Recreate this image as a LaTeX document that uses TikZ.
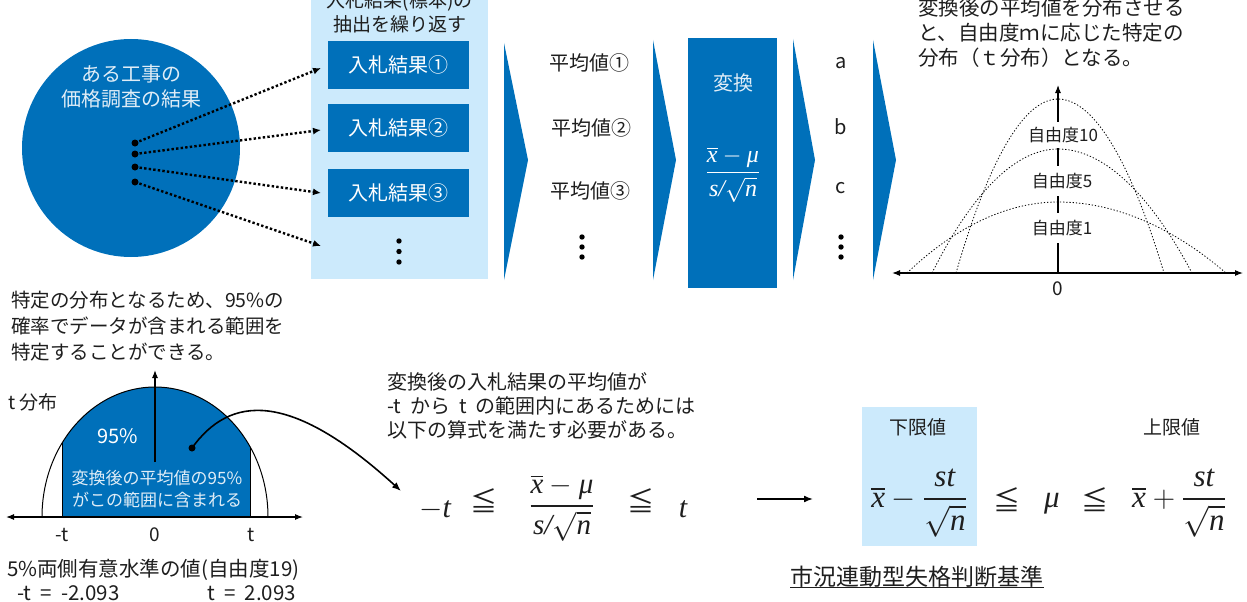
\RequirePackage{fix-cm}
\documentclass[tikz,border=0pt]{standalone}
\usepackage{fontspec}
\setmainfont{Noto Sans CJK JP}
\newfontfamily\mfont{Liberation Serif}
\newcommand{\mv}[1]{\hbox{\mfont\itshape #1}}
\newcommand{\mslash}{\hbox{\mfont\itshape /}}
\newcommand{\xbar}{\vbox{\hrule height 0.06em\kern0.09em\hbox{\mfont\itshape x}}}
\newcommand{\fracb}[2]{\displaystyle{{#1}\above 0.055em{#2}}}
\usetikzlibrary{arrows.meta}
\definecolor{mainblue}{RGB}{0,112,186}
\definecolor{lightblue}{RGB}{204,234,252}
\definecolor{txt}{RGB}{30,30,30}
\definecolor{softwhite}{RGB}{224,237,247}
\begin{document}
\begin{tikzpicture}[x=1pt,y=-1pt,
  bbox/.style={rectangle, fill=mainblue, text=white, inner sep=0pt},
  lbbox/.style={rectangle, fill=lightblue, inner sep=0pt},
  lbl/.style={inner sep=0pt, text=txt},
  fs/.style={font=\fontsize{#1}{#1}\selectfont},
  dotarrow/.style={line width=2.4pt, dash pattern=on 2.4pt off 2.2pt, -{Latex[length=8pt,width=7pt]}},
  tcurve/.style={line width=0.8pt, dash pattern=on 1.3pt off 1.9pt},
  axis/.style={line width=1.1pt},
  bigdot/.style={circle, fill=black, inner sep=0pt, minimum size=7pt},
]
\useasboundingbox (0,0) rectangle (1247,602);
\clip (0,0) rectangle (1247,602);

% ---------- top-left: population circle ----------
\node[circle, fill=mainblue, minimum size=218pt, inner sep=0pt] (pop) at (131,148) {};
\node[lbl, text=softwhite, align=center, font=\fontsize{20}{25}\selectfont] (poptxt) at (131,86.5) {ある工事の\\価格調査の結果};
\node[bigdot] (d1) at (135,143) {};
\node[bigdot] (d2) at (135,154) {};
\node[bigdot] (d3) at (135,167) {};
\node[bigdot] (d4) at (135,182) {};

% ---------- sample box ----------
\node[lbbox, minimum width=177pt, minimum height=290pt, anchor=north west] (samp) at (311,-11) {};
\node[lbl, align=center, font=\fontsize{19}{24}\selectfont] (samptxt) at (399.5,12) {入札結果(標本)の\\抽出を繰り返す};
\node[bbox, minimum width=141pt, minimum height=48pt, fs=20] (r1) at (398.5,65) {入札結果①};
\node[bbox, minimum width=141pt, minimum height=48pt, fs=20] (r2) at (398.5,128) {入札結果②};
\node[bbox, minimum width=141pt, minimum height=48pt, fs=20] (r3) at (398.5,192.5) {入札結果③};
\foreach \yy in {241,251.5,262} \fill (399,\yy) circle (2.7);

\coordinate (e1) at (321,68);
\coordinate (e2) at (321,130);
\coordinate (e3) at (321,193);
\coordinate (e4) at (321,246);
\draw[dotarrow] (d1.center) -- (e1);
\draw[dotarrow] (d2.center) -- (e2);
\draw[dotarrow] (d3.center) -- (e3);
\draw[dotarrow] (d4.center) -- (e4);

% ---------- chevrons ----------
\fill[mainblue] (504,43) -- (528,160) -- (504,280) -- cycle;
\fill[mainblue] (653,40) -- (676,160) -- (653,280) -- cycle;
\fill[mainblue] (793,39) -- (815,160) -- (793,280) -- cycle;
\fill[mainblue] (873,40) -- (896,160) -- (873,280) -- cycle;

% ---------- averages ----------
\node[lbl, fs=20] (m1) at (589,63) {平均値①};
\node[lbl, fs=20] (m2) at (591,128) {平均値②};
\node[lbl, fs=20] (m3) at (590,191) {平均値③};
\foreach \yy in {237,247,257} \fill (582,\yy) circle (2.7);

% ---------- transform box ----------
\node[bbox, minimum width=89pt, minimum height=250pt, anchor=north west] (conv) at (688,38) {};
\node[lbl, text=softwhite, fs=20] (convtxt) at (733,83) {変換};
\node[lbl, text=white, font=\fontsize{24}{26}\selectfont] (convf) at (733,175) {$\fracb{\xbar-\mv{μ}}{\mv{s}\mslash\sqrt{\mv{n}}}$};

% ---------- a b c ----------
\node[lbl, fs=20] (la) at (841,63) {a};
\node[lbl, fs=20] (lb) at (841,127) {b};
\node[lbl, fs=20] (lc) at (841,188) {c};
\foreach \yy in {237,247,257} \fill (841,\yy) circle (2.7);

% ---------- top-right text and t-distributions ----------
\node[lbl, anchor=west, align=left, font=\fontsize{20.5}{25}\selectfont] (trtxt) at (918,33) {変換後の平均値を分布させる\\と、自由度ｍに応じた特定の\\分布（ｔ分布）となる。};
\draw[axis, {Latex[length=8pt,width=6pt]}-{Latex[length=8pt,width=6pt]}] (892,273) -- (1243,273);
\draw[axis, -{Latex[length=8pt,width=6pt]}] (1058,273) -- (1058,85);
\node[lbl, fill=white, inner xsep=1pt, inner ysep=5pt, fs=17] (df10) at (1063,135) {自由度10};
\node[lbl, fill=white, inner xsep=1pt, inner ysep=7pt, fs=17] (df5) at (1062,181) {自由度5};
\node[lbl, fill=white, inner xsep=1pt, inner ysep=7pt, fs=17] (df1) at (1062,228) {自由度1};
\draw[tcurve] (956,273) parabola bend (1058,99) (1164,273);
\draw[tcurve] (932,273) parabola bend (1058,149) (1192,273);
\draw[tcurve] (907,273) parabola bend (1058,202) (1226,273);
\node[lbl, fs=19] (zero1) at (1058,289) {0};

% ---------- bottom-left text ----------
\node[lbl, anchor=west, align=left, font=\fontsize{19.5}{26}\selectfont] (bltxt) at (11,326) {特定の分布となるため、95\%の\\確率でデータが含まれる範囲を\\特定することができる。};

% ---------- bottom-left t chart ----------
\begin{scope}
\clip (62,370) rectangle (250,517);
\fill[mainblue] (155,517) ellipse [x radius=113, y radius=130];
\end{scope}
\begin{scope}
\clip (30,370) rectangle (280,517);
\draw[line width=1pt] (155,517) ellipse [x radius=113, y radius=130];
\end{scope}
\draw[line width=0.9pt] (62,517) -- (62,443);
\draw[line width=0.9pt] (250,517) -- (250,447);
\draw[axis, {Latex[length=8pt,width=6pt]}-{Latex[length=8pt,width=6pt]}] (6,517) -- (303,517);
\draw[axis, -{Latex[length=8pt,width=6pt]}] (155,462) -- (155,370);
\node[lbl, anchor=west, fs=19] (tdist) at (8,402) {t 分布};
\node[lbl, text=white, fs=20] (p95) at (118,436) {95\%};
\node[lbl, text=softwhite, align=center, font=\fontsize{17}{22}\selectfont] (intxt) at (157,489) {変換後の平均値の95\%\\がこの範囲に含まれる};
\node[lbl, fs=19] (mt) at (62,535) {-t};
\node[lbl, fs=19] (z2) at (155,535) {0};
\node[lbl, fs=19] (pt) at (251,535) {t};
\node[bigdot] (src) at (192,448) {};

\node[lbl, anchor=west, fs=20.5] (sig) at (7,570) {5\%両側有意水準の値(自由度19)};
\node[lbl, anchor=west, fs=20.5] (tl) at (17,593) {-t\hspace{0.45em}=\hspace{0.45em}-2.093};
\node[lbl, anchor=west, fs=20.5] (tr) at (207,593) {t\hspace{0.45em}=\hspace{0.45em}2.093};

% ---------- middle text and inequality ----------
\node[lbl, anchor=west, align=left, font=\fontsize{20}{24}\selectfont] (midtxt) at (387,406) {変換後の入札結果の平均値が\\-t\hspace{0.45em}から\hspace{0.45em}t\hspace{0.45em}の範囲内にあるためには\\以下の算式を満たす必要がある。};
\coordinate (fe) at (401,491);
\draw[line width=1.6pt, -{Latex[length=9pt,width=7pt]}] (src.center) .. controls (230,395) and (290,390) .. (fe);

\node[lbl, anchor=base, font=\fontsize{30}{32}\selectfont] (ineqa) at (435,517) {$-\mv{t}$};
\node[lbl, font=\fontsize{27}{30}\selectfont] (le1) at (484,501) {≦};
\node[lbl, anchor=base, font=\fontsize{29}{32}\selectfont] (ineqb) at (562,513) {$\fracb{\xbar-\mv{μ}}{\mv{s}\mslash\sqrt{\mv{n}}}$};
\node[lbl, font=\fontsize{27}{30}\selectfont] (le2) at (641,501) {≦};
\node[lbl, anchor=base, font=\fontsize{30}{32}\selectfont] (ineqc) at (683,517) {$\mv{t}$};

% ---------- arrow ----------
\coordinate (a1) at (757,499);
\coordinate (a2) at (813,499);
\draw[line width=1.6pt, -{Latex[length=9pt,width=7pt]}] (a1) -- (a2);

% ---------- bounds ----------
\node[lbbox, minimum width=115pt, minimum height=139pt] (lowbox) at (919.5,476.5) {};
\node[lbl, fs=19] (lowlbl) at (918,427) {下限値};
\node[lbl, fs=19] (uplbl) at (1172,427) {上限値};
\node[lbl, anchor=base, font=\fontsize{31}{32}\selectfont] (lowf) at (919,507) {$\xbar-\fracb{\mv{st}}{\sqrt{\mv{n}}}$};
\node[lbl, font=\fontsize{27}{30}\selectfont] (le3) at (1007,500) {≦};
\node[lbl, anchor=base, font=\fontsize{31}{32}\selectfont] (mu) at (1052,507) {$\mv{μ}$};
\node[lbl, font=\fontsize{27}{30}\selectfont] (le4) at (1095,500) {≦};
\node[lbl, anchor=base, font=\fontsize{31}{32}\selectfont] (upf) at (1179,507) {$\xbar+\fracb{\mv{st}}{\sqrt{\mv{n}}}$};

\node[lbl, fs=23] (title) at (917,577) {市況連動型失格判断基準};
\draw[line width=1pt, txt] (title.south west) -- (title.south east);
\end{tikzpicture}
\end{document}
